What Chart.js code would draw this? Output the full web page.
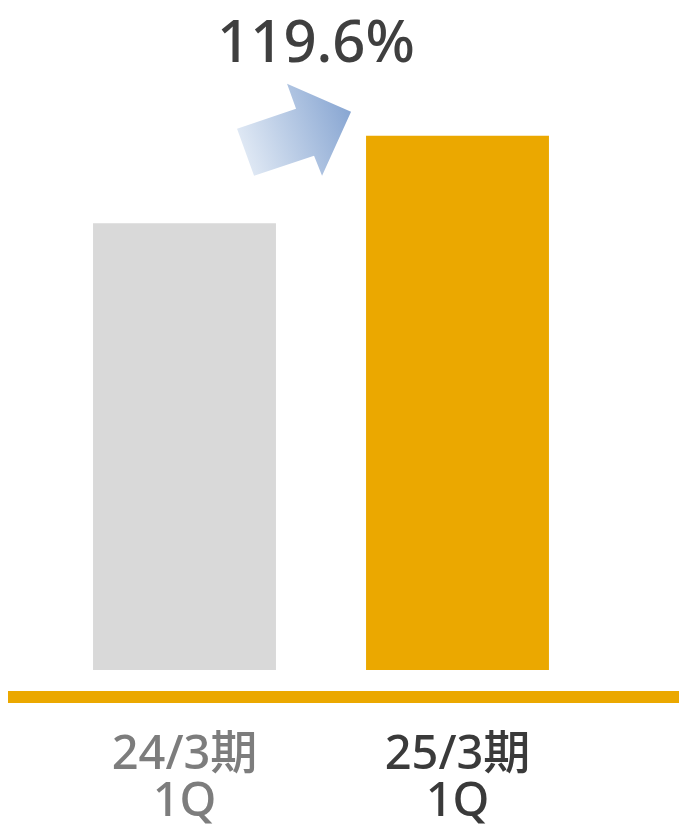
<!DOCTYPE html>
<html lang="ja">
<head>
<meta charset="utf-8">
<title>24/3期 1Q vs 25/3期 1Q</title>
<script src="https://cdn.jsdelivr.net/npm/chart.js@4/dist/chart.umd.min.js"></script>
<style>
  html, body { margin: 0; padding: 0; background: #ffffff; }
  canvas { display: block; }
</style>
</head>
<body>
<canvas id="qChart" width="679" height="825"></canvas>
<script>
// 前年同期比の棒グラフ（24/3期 1Q → 25/3期 1Q）
const categories = [["24/3期", "1Q"], ["25/3期", "1Q"]];
const values = [100, 119.6];
const growthLabel = "119.6%";

const barColors = ["#d9d9d9", "#eba800"];
const labelColors = ["#7d7d7d", "#3a3a3a"];
const FONT = "'Noto Sans', 'Noto Sans CJK JP', sans-serif";

// 軸の下の太い横線
const baselinePlugin = {
  id: "baseline",
  afterDraw(chart) {
    const { ctx, chartArea } = chart;
    const y = chartArea.bottom + 27;
    ctx.save();
    ctx.strokeStyle = "#eba800";
    ctx.lineWidth = 12;
    ctx.beginPath();
    ctx.moveTo(8, y);
    ctx.lineTo(chart.width, y);
    ctx.stroke();
    ctx.restore();
  },
};

// 伸び率の矢印とラベル
const growthPlugin = {
  id: "growth",
  afterDatasetsDraw(chart) {
    const { ctx } = chart;
    const bars = chart.getDatasetMeta(0).data;
    const prev = bars[0], cur = bars[1];
    const curLeft = cur.x - cur.width / 2;
    const tipX = curLeft - 15, tipY = cur.y - 24;

    // 矢印の形（先端からの相対位置）
    const shape = [
      [-114, 17], [-55, -3], [-64, -28], [0, 0], [-29, 64], [-37, 44], [-97, 64],
    ];
    const grad = ctx.createLinearGradient(tipX - 114, tipY + 40, tipX, tipY);
    grad.addColorStop(0, "#e4ecf6");
    grad.addColorStop(1, "#88a6d2");
    ctx.save();
    ctx.fillStyle = grad;
    ctx.beginPath();
    shape.forEach(([dx, dy], i) => {
      if (i === 0) ctx.moveTo(tipX + dx, tipY + dy);
      else ctx.lineTo(tipX + dx, tipY + dy);
    });
    ctx.closePath();
    ctx.fill();

    ctx.fillStyle = "#3f3f3f";
    ctx.font = "500 58px " + FONT;
    ctx.textAlign = "center";
    ctx.textBaseline = "alphabetic";
    ctx.fillText(growthLabel, (prev.x + cur.x) / 2 - 5, 62);
    ctx.restore();
  },
};

new Chart(document.getElementById("qChart").getContext("2d"), {
  type: "bar",
  data: {
    labels: categories,
    datasets: [{
      data: values,
      backgroundColor: barColors,
      borderWidth: 0,
      categoryPercentage: 1,
      barPercentage: 0.67,
    }],
  },
  options: {
    responsive: false,
    animation: false,
    events: [],
    layout: { padding: { left: 48, right: 85, top: 0, bottom: 0 } },
    plugins: { legend: { display: false }, tooltip: { enabled: false } },
    scales: {
      x: {
        grid: { display: false, drawTicks: false },
        border: { display: false },
        afterFit(scale) { scale.height = 155; },
        ticks: {
          padding: 62,
          maxRotation: 0,
          color: (c) => labelColors[c.index],
          font: { family: FONT, size: 47, weight: "500", lineHeight: 1.0 },
        },
      },
      y: {
        display: false,
        min: 0,
        max: 150,
      },
    },
  },
  plugins: [baselinePlugin, growthPlugin],
});
</script>
</body>
</html>
